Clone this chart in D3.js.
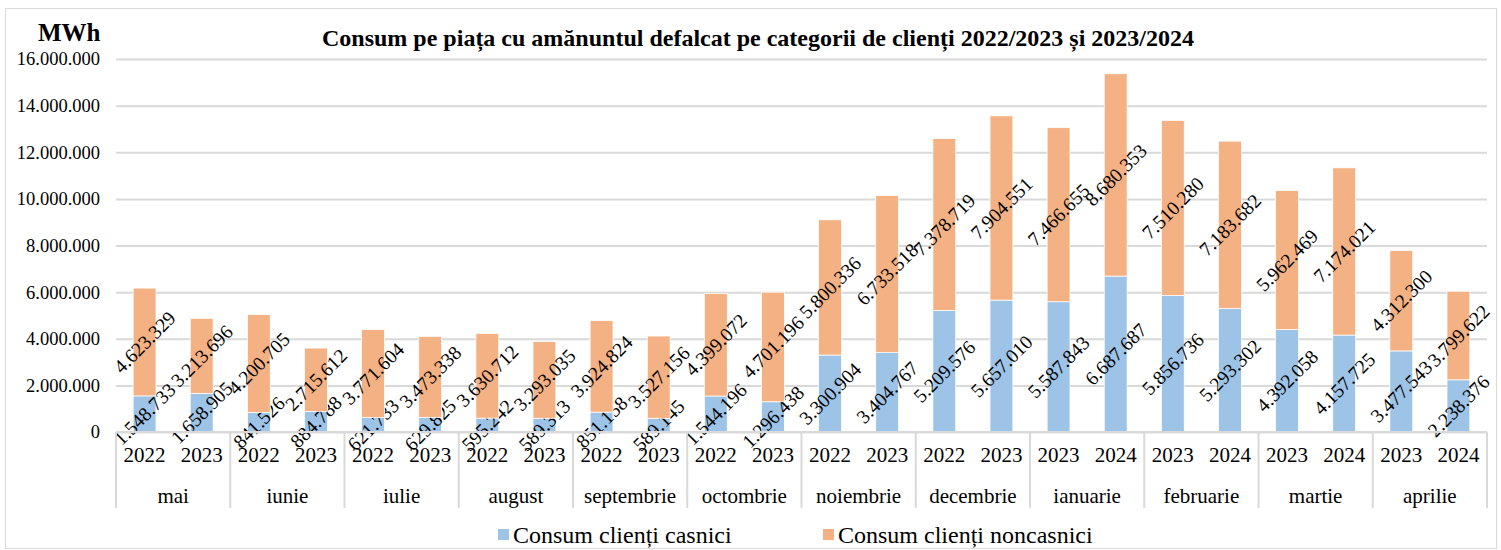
<!DOCTYPE html>
<html>
<head>
<meta charset="utf-8">
<script src="https://cdn.jsdelivr.net/npm/d3@7"></script>
<style>
  body { margin: 0; background: #fff; }
  text { font-family: "Liberation Serif", "Times New Roman", serif; fill: #000; }
</style>
</head>
<body>
<div class="chart"></div>
<script>
const months = ['mai', 'iunie', 'iulie', 'august', 'septembrie', 'octombrie', 'noiembrie', 'decembrie', 'ianuarie', 'februarie', 'martie', 'aprilie']
const years = [['2022', '2023'], ['2022', '2023'], ['2022', '2023'], ['2022', '2023'], ['2022', '2023'], ['2022', '2023'],
  ['2022', '2023'], ['2022', '2023'], ['2023', '2024'], ['2023', '2024'], ['2023', '2024'], ['2023', '2024']]
const casnici = [1548733, 1658905, 841526, 884788, 621733, 629825, 595242, 589313, 851158, 589145, 1544196, 1296438,
  3300904, 3404767, 5209576, 5657010, 5587843, 6687687, 5856736, 5293302, 4392058, 4157725, 3477543, 2238376]
const noncasnici = [4623329, 3213696, 4200705, 2715612, 3771604, 3473338, 3630712, 3293035, 3924824, 3527156, 4399072, 4701196,
  5800336, 6733518, 7378719, 7904551, 7466655, 8680353, 7510280, 7183682, 5962469, 7174021, 4312300, 3799622]
const seriesNames = ['Consum clienți casnici', 'Consum clienți noncasnici']
const colors = ['#9DC3E6', '#F4B183']
const yTicks = [0, 2000000, 4000000, 6000000, 8000000, 10000000, 12000000, 14000000, 16000000]

const W = 1501, H = 550
const margin = {top: 59, right: 14, bottom: 118, left: 116}

const ro = d3.formatLocale({decimal: ',', thousands: '.', grouping: [3], currency: ['', '']})
const fmt = ro.format(',d')

const svg = d3.select('.chart').append('svg')
  .attr('width', W)
  .attr('height', H)

// outer frame
svg.append('rect')
  .attr('x', 5.5).attr('y', 8.5)
  .attr('width', 1491).attr('height', 540)
  .attr('fill', 'none')
  .attr('stroke', '#D9D9D9')

const rows = []
months.forEach((m, i) => {
  years[i].forEach((yr, j) => {
    const k = i * 2 + j
    rows.push({key: m + '-' + yr + '-' + k, month: m, year: yr, casnici: casnici[k], noncasnici: noncasnici[k]})
  })
})

const x = d3.scaleBand()
  .domain(rows.map(d => d.key))
  .range([margin.left, W - margin.right])
  .paddingInner(0.6)
  .paddingOuter(0.3)

const xMonth = d3.scaleBand()
  .domain(months)
  .range([margin.left, W - margin.right])

const y = d3.scaleLinear()
  .domain([0, 16000000])
  .range([H - margin.bottom, margin.top])

// gridlines + y labels
const yAxis = svg.append('g')
  .attr('transform', `translate(${margin.left},0)`)
  .call(d3.axisLeft(y).tickValues(yTicks).tickFormat(fmt)
    .tickSize(-(W - margin.left - margin.right)).tickPadding(16))
yAxis.select('.domain').remove()
yAxis.selectAll('line').attr('stroke', '#D9D9D9').attr('stroke-width', 2)
yAxis.selectAll('text').style('font-size', '18.5px').attr('dy', '0.32em')

// stacked bars
const stack = d3.stack().keys(['casnici', 'noncasnici'])(rows)

const layers = svg.append('g').selectAll('g.layer')
  .data(stack)
  .enter().append('g')
    .attr('class', 'layer')
    .attr('fill', (d, i) => colors[i])

layers.selectAll('rect')
  .data(d => d)
  .enter().append('rect')
    .attr('x', d => x(d.data.key))
    .attr('width', x.bandwidth())
    .attr('y', d => y(d[1]))
    .attr('height', d => y(d[0]) - y(d[1]))
    .attr('stroke', '#fff')
    .attr('stroke-width', 0.75)

// data labels, rotated
layers.selectAll('text')
  .data(d => d)
  .enter().append('text')
    .attr('transform', d => `translate(${x(d.data.key) + x.bandwidth() / 2},${(y(d[0]) + y(d[1])) / 2}) rotate(-45)`)
    .attr('text-anchor', 'middle')
    .attr('dy', '0.35em')
    .style('font-size', '19.5px')
    .text(d => fmt(d[1] - d[0]))

// baseline
const y0 = y(0)
svg.append('line')
  .attr('x1', margin.left).attr('x2', W - margin.right)
  .attr('y1', y0).attr('y2', y0)
  .attr('stroke', '#D9D9D9').attr('stroke-width', 2)

// month dividers
const divs = months.map(m => xMonth(m)).concat([W - margin.right])
svg.append('g').selectAll('line')
  .data(divs)
  .enter().append('line')
    .attr('x1', d => d).attr('x2', d => d)
    .attr('y1', y0).attr('y2', y0 + 76)
    .attr('stroke', '#D9D9D9').attr('stroke-width', 2)

// year labels
svg.append('g').selectAll('text')
  .data(rows)
  .enter().append('text')
    .attr('x', d => x(d.key) + x.bandwidth() / 2)
    .attr('y', y0 + 30)
    .attr('text-anchor', 'middle')
    .style('font-size', '21px')
    .text(d => d.year)

// month labels
svg.append('g').selectAll('text')
  .data(months)
  .enter().append('text')
    .attr('x', d => xMonth(d) + xMonth.bandwidth() / 2)
    .attr('y', y0 + 71)
    .attr('text-anchor', 'middle')
    .style('font-size', '21px')
    .text(d => d)

// title
svg.append('text')
  .attr('x', 758).attr('y', 46)
  .attr('text-anchor', 'middle')
  .style('font-size', '24px')
  .style('font-weight', 'bold')
  .text('Consum pe piața cu amănuntul defalcat pe categorii de clienți 2022/2023 și 2023/2024')

svg.append('text')
  .attr('x', 38).attr('y', 41)
  .style('font-size', '25px')
  .style('font-weight', 'bold')
  .text('MWh')

// legend
const legendX = [498, 823]
const legend = svg.append('g').selectAll('g')
  .data(seriesNames)
  .enter().append('g')
    .attr('transform', (d, i) => `translate(${legendX[i]},543)`)

legend.append('rect')
  .attr('x', 0).attr('y', -14)
  .attr('width', 11).attr('height', 11)
  .attr('fill', (d, i) => colors[i])

legend.append('text')
  .attr('x', 15).attr('y', 0)
  .style('font-size', '24px')
  .text(d => d)
</script>
</body>
</html>
